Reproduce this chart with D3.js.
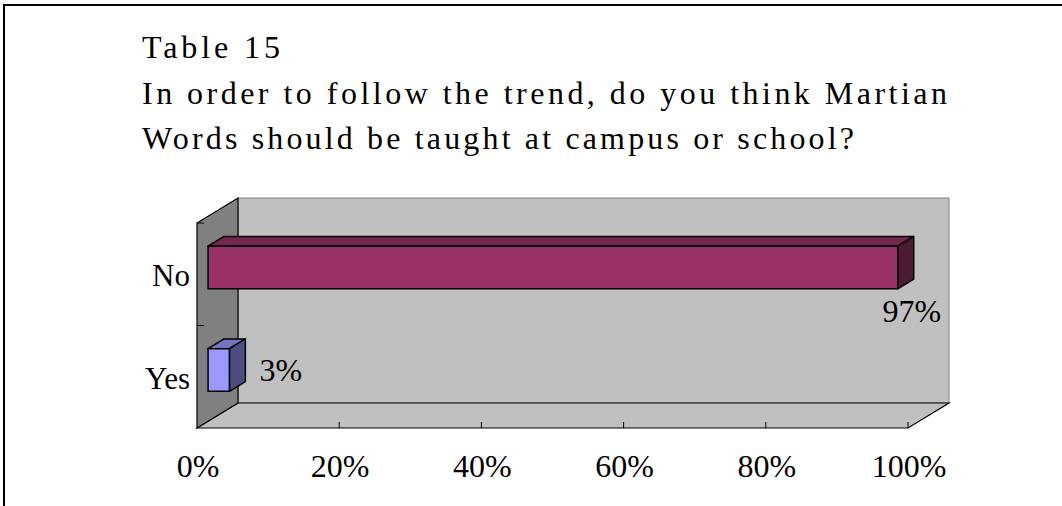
<!DOCTYPE html>
<html>
<head>
<meta charset="utf-8">
<script src="https://cdn.jsdelivr.net/npm/d3@7"></script>
<style>
  html, body { margin: 0; padding: 0; background: #fff; }
  svg { display: block; }
  text { font-family: "Liberation Serif", "DejaVu Serif", serif; fill: #000; }
</style>
</head>
<body>
<svg id="chart" width="1062" height="506"></svg>
<script>
// Survey answers (share of respondents)
const categories = ["No", "Yes"];
const values = [0.97, 0.03];
const valueLabels = ["97%", "3%"];
const tickValues = [0, 0.2, 0.4, 0.6, 0.8, 1.0];
const tickLabels = ["0%", "20%", "40%", "60%", "80%", "100%"];
const titleLines = [
  "Table 15",
  "In order to follow the trend, do you think Martian",
  "Words should be taught at campus or school?"
];

const svg = d3.select("#chart");

// Outer frame
svg.append("path")
  .attr("d", "M4,506 L4,5 L1062,5")
  .attr("fill", "none").attr("stroke", "#000").attr("stroke-width", 2);

// Title
const titleWidths = [138, 805, 712];
const titleBase = [58, 104, 149];
titleLines.forEach((t, i) => {
  svg.append("text")
    .attr("x", 142).attr("y", titleBase[i])
    .attr("font-size", 32)
    .attr("textLength", titleWidths[i])
    .attr("lengthAdjust", "spacing")
    .text(t);
});

// Front plane scales and 3D depth offset
const x = d3.scaleLinear().domain([0, 1]).range([197, 908]);
const y = d3.scaleBand().domain(categories).range([223, 428])
  .paddingInner(0.585).paddingOuter(0.2925);
const DX = 41, DY = -25;           // full depth of the plot box
const d0 = 0.27, d1 = 0.66;        // bar front / back depth fraction

const x0 = x(0), x1 = x(1), yT = 223, yB = 428;
const pts = a => a.map(p => p.join(",")).join(" ");

// Back wall
svg.append("polygon")
  .attr("points", pts([[x0 + DX, yT + DY], [x1 + DX, yT + DY], [x1 + DX, yB + DY], [x0 + DX, yB + DY]]))
  .attr("fill", "#c0c0c0").attr("stroke", "#808080").attr("stroke-width", 1);

// Floor
svg.append("polygon")
  .attr("points", pts([[x0, yB], [x1, yB], [x1 + DX, yB + DY], [x0 + DX, yB + DY]]))
  .attr("fill", "#c0c0c0").attr("stroke", "#000").attr("stroke-width", 1.2);

// Left side wall
svg.append("polygon")
  .attr("points", pts([[x0, yT], [x0 + DX, yT + DY], [x0 + DX, yB + DY], [x0, yB]]))
  .attr("fill", "#808080").attr("stroke", "#000").attr("stroke-width", 1.2);

// Value-axis ticks on the floor front edge
svg.selectAll(".xtick").data(tickValues.slice(1)).enter().append("line")
  .attr("x1", d => x(d)).attr("x2", d => x(d))
  .attr("y1", yB).attr("y2", yB - 6)
  .attr("stroke", "#000").attr("stroke-width", 1);

// Category ticks on the side wall front edge
const catEdges = [yT, yT + y.step(), yB];
svg.selectAll(".ytick").data(catEdges.slice(0, 2)).enter().append("line")
  .attr("x1", x0).attr("x2", x0 + 7)
  .attr("y1", d => d).attr("y2", d => d)
  .attr("stroke", "#000").attr("stroke-width", 1);

// Bars
const fills = {
  No:  { front: "#993366", top: "#732650", side: "#4d1a33" },
  Yes: { front: "#9999ff", top: "#7373bf", side: "#4d4d80" }
};
const fx = d0 * DX, fy = d0 * DY, bx = d1 * DX, by = d1 * DY;

categories.forEach((c, i) => {
  const v = values[i];
  const xl = x(0) + fx, xr = x(v) + fx;
  const yt = y(c) + fy, yb = y(c) + y.bandwidth() + fy;
  const ddx = bx - fx, ddy = by - fy;
  const g = svg.append("g");
  g.append("polygon")
    .attr("points", pts([[xl, yt], [xr, yt], [xr + ddx, yt + ddy], [xl + ddx, yt + ddy]]))
    .attr("fill", fills[c].top).attr("stroke", "#000").attr("stroke-width", 1.5)
    .attr("stroke-linejoin", "round");
  g.append("polygon")
    .attr("points", pts([[xr, yt], [xr + ddx, yt + ddy], [xr + ddx, yb + ddy], [xr, yb]]))
    .attr("fill", fills[c].side).attr("stroke", "#000").attr("stroke-width", 1.5)
    .attr("stroke-linejoin", "round");
  g.append("rect")
    .attr("x", xl).attr("y", yt).attr("width", xr - xl).attr("height", yb - yt)
    .attr("fill", fills[c].front).attr("stroke", "#000").attr("stroke-width", 1.5);
});

// Data labels
{
  const c = "No", v = values[0];
  svg.append("text")
    .attr("x", x(v) + bx - 2).attr("y", y(c) + y.bandwidth() + fy + 33)
    .attr("text-anchor", "middle").attr("font-size", 32)
    .text(valueLabels[0]);
}
{
  const c = "Yes", v = values[1];
  svg.append("text")
    .attr("x", x(v) + bx + 14).attr("y", y(c) + y.bandwidth() / 2 + fy + 11)
    .attr("text-anchor", "start").attr("font-size", 32)
    .text(valueLabels[1]);
}

// Category labels
svg.selectAll(".ylab").data(categories).enter().append("text")
  .attr("x", 190)
  .attr("y", d => y(d) + y.bandwidth() / 2 + 12)
  .attr("text-anchor", "end").attr("font-size", 31)
  .text(d => d);

// Value-axis labels
svg.selectAll(".xlab").data(tickValues).enter().append("text")
  .attr("x", d => x(d) + 1)
  .attr("y", 477)
  .attr("text-anchor", "middle").attr("font-size", 32)
  .text((d, i) => tickLabels[i]);
</script>
</body>
</html>
